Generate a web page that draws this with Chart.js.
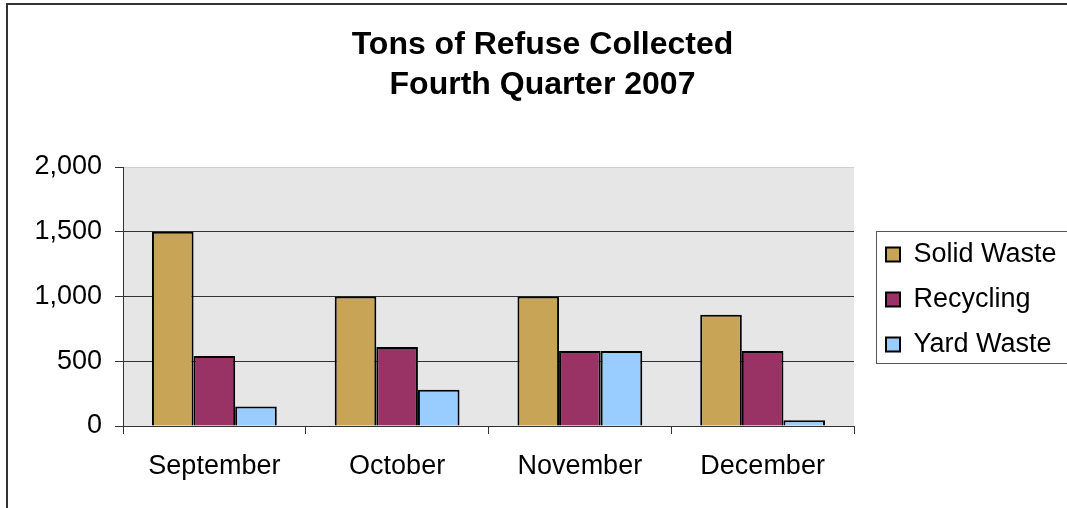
<!DOCTYPE html>
<html>
<head>
<meta charset="utf-8">
<title>Tons of Refuse Collected</title>
<script src="https://cdn.jsdelivr.net/npm/chart.js"></script>
<style>
  html, body { margin: 0; padding: 0; background: #fff; overflow: hidden; }
  canvas { display: block; }
</style>
</head>
<body>
<canvas id="myChart" width="1085" height="508"></canvas>
<script>
const months = ['September', 'October', 'November', 'December'];
const solidWaste = [1500, 1000, 1000, 860];
const recycling = [540, 610, 580, 580];
const yardWaste = [150, 280, 580, 45];
const yTicks = [0, 500, 1000, 1500, 2000];

const fontFamily = '"Liberation Sans", Arial, Helvetica, sans-serif';
const legendWidth = 217;

// grey plot area, white page and the frame round the whole chart
const backdrop = {
    id: 'backdrop',
    beforeDraw(chart) {
        const ctx = chart.ctx;
        const a = chart.chartArea;
        ctx.save();
        ctx.fillStyle = '#fff';
        ctx.fillRect(0, 0, chart.width, chart.height);
        ctx.fillStyle = '#e6e6e6';
        ctx.fillRect(a.left, a.top, a.right - a.left, a.bottom - a.top);
        ctx.strokeStyle = '#cfcfcf';
        ctx.lineWidth = 1;
        ctx.beginPath();
        ctx.moveTo(a.left, a.top + 0.5);
        ctx.lineTo(a.right, a.top + 0.5);
        ctx.stroke();
        ctx.restore();
    },
    afterDraw(chart) {
        const ctx = chart.ctx;
        const a = chart.chartArea;
        const lg = chart.legend;
        ctx.save();
        // outer frame
        ctx.strokeStyle = '#333';
        ctx.lineWidth = 2;
        ctx.strokeRect(7, 4, 3000, 3000);
        // legend frame
        const mid = (a.top + a.bottom) / 2;
        ctx.strokeStyle = '#555';
        ctx.lineWidth = 1;
        ctx.strokeRect(Math.round(lg.left + 8) + 0.5, Math.round(mid - 66) + 0.5, 1000, 132);
        ctx.restore();
    }
};

// fixed legend width, and nudge its rows down a little
const legendBox = {
    id: 'legendBox',
    beforeLayout(chart) {
        const lg = chart.legend;
        if (lg && !lg.wideFit) {
            const fit = lg.fit.bind(lg);
            lg.fit = function () {
                fit();
                this.width = legendWidth;
            };
            lg.wideFit = true;
        }
    },
    afterLayout(chart) {
        chart.legend.top += 3;
        chart.legend.bottom += 3;
    }
};

const data = {
    labels: months,
    datasets: [{
        label: 'Solid Waste',
        backgroundColor: '#c8a456',
        borderColor: '#000',
        borderWidth: 2,
        data: solidWaste,
    },
    {
        label: 'Recycling',
        backgroundColor: '#993366',
        borderColor: '#000',
        borderWidth: 2,
        data: recycling,
    },
    {
        label: 'Yard Waste',
        backgroundColor: '#99ccff',
        borderColor: '#000',
        borderWidth: 2,
        data: yardWaste,
    }]
};

const config = {
    type: 'bar',
    data: data,
    options: {
        responsive: false,
        animation: false,
        datasets: {
            bar: { categoryPercentage: 0.683, barPercentage: 1 }
        },
        layout: {
            padding: 0
        },
        scales: {
            x: {
                grid: {
                    drawOnChartArea: false,
                    drawTicks: true,
                    tickLength: 8,
                    color: '#333',
                    offset: true
                },
                border: { display: true, color: '#333', width: 1 },
                ticks: {
                    color: '#000',
                    padding: 16,
                    font: { family: fontFamily, size: 27 }
                },
                afterFit: s => { s.height = 82; }
            },
            y: {
                min: 0,
                max: 2000,
                afterBuildTicks: s => { s.ticks = yTicks.map(v => ({ value: v })); },
                grid: {
                    color: c => (c.tick && c.tick.value === 2000) ? 'rgba(0,0,0,0)' : '#333',
                    tickColor: '#333',
                    tickLength: 8,
                    lineWidth: 1
                },
                border: { display: true, color: '#333', width: 1 },
                ticks: {
                    color: '#000',
                    padding: 13,
                    font: { family: fontFamily, size: 27 },
                    callback: v => v.toLocaleString('en-US')
                },
                afterFit: s => { s.width = 123; }
            },
            // empty strip between the plot and the legend
            gap: {
                type: 'linear',
                position: 'right',
                display: true,
                grid: { display: false },
                border: { display: false },
                ticks: { display: false },
                afterFit: s => { s.width = 14; }
            }
        },
        plugins: {
            title: {
                display: true,
                text: ['Tons of Refuse Collected', 'Fourth Quarter 2007'],
                color: '#000',
                font: { family: fontFamily, size: 32, weight: 'bold', lineHeight: 1.25 },
                padding: { top: 25, bottom: 62 }
            },
            legend: {
                position: 'right',
                fullSize: false,
                labels: {
                    color: '#000',
                    boxWidth: 14,
                    boxHeight: 14,
                    padding: 18,
                    font: { family: fontFamily, size: 27 }
                }
            },
            tooltip: { enabled: false }
        }
    },
    plugins: [backdrop, legendBox]
};

const myChart = new Chart(
    document.getElementById('myChart'),
    config
);
</script>
</body>
</html>
